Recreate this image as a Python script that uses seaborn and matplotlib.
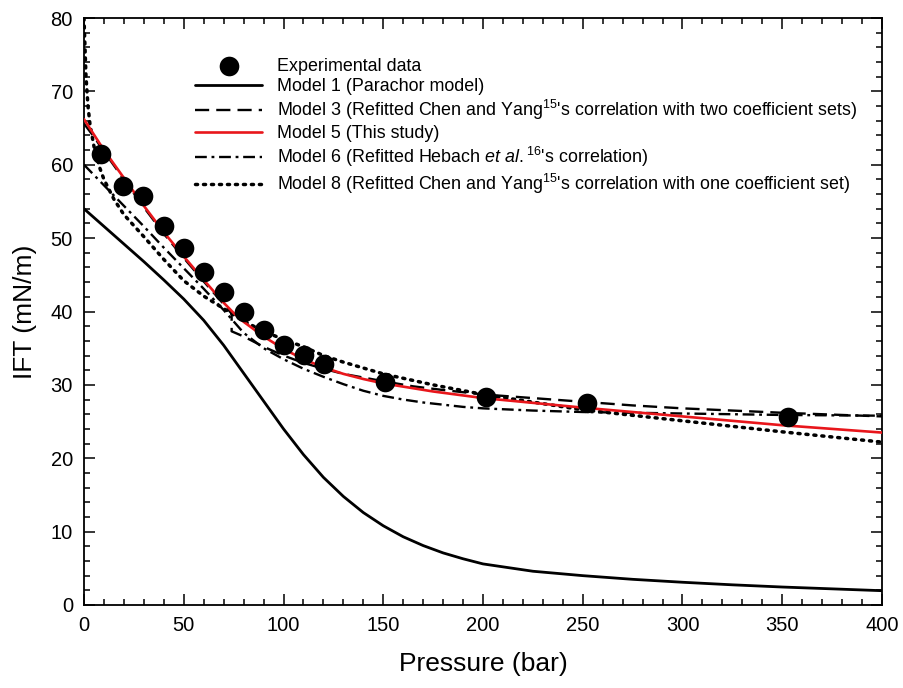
import numpy as np
import pandas as pd
import matplotlib
matplotlib.use("Agg")
import matplotlib.pyplot as plt
import seaborn as sns

# ---------------- data ----------------
exp_p = [8.7, 19.7, 29.8, 40.2, 50.2, 60.2, 70.2, 80.2, 90.2, 100.3, 110.3, 120.3, 150.9, 201.5, 252.2, 352.9]
exp_ift = [61.5, 57.1, 55.7, 51.6, 48.6, 45.4, 42.6, 39.9, 37.5, 35.4, 34.1, 32.8, 30.4, 28.3, 27.5, 25.6]

m1_p = [0, 10, 20, 30, 40, 50, 60, 70, 80, 90, 100, 110, 120, 130, 140, 150, 160, 170, 180, 190,
        200, 225, 250, 275, 300, 325, 350, 375, 400]
m1_ift = [54.0, 51.6, 49.2, 46.8, 44.3, 41.7, 38.8, 35.4, 31.6, 27.8, 24.0, 20.5, 17.4, 14.8, 12.6,
          10.8, 9.3, 8.1, 7.1, 6.3, 5.6, 4.6, 4.0, 3.5, 3.1, 2.75, 2.45, 2.2, 1.95]

m3_p = [0, 5, 10, 20, 30, 40, 50, 60, 70, 74, 74, 80, 90, 100, 110, 120, 130, 140, 150, 165, 180,
        200, 225, 250, 275, 300, 350, 400]
m3_ift = [65.6, 63.8, 61.8, 58.0, 54.2, 50.6, 47.3, 44.1, 41.0, 39.7, 37.3, 36.6, 35.2, 34.0, 33.0,
          32.2, 31.5, 31.0, 30.5, 29.8, 29.3, 28.7, 28.2, 27.7, 27.2, 26.8, 26.2, 25.7]

m5_p = [0, 10, 20, 30, 40, 50, 60, 70, 75, 80, 90, 100, 110, 120, 130, 140, 150, 175, 200, 250, 300, 350, 400]
m5_ift = [66.2, 62.0, 58.2, 54.4, 50.8, 47.5, 44.3, 41.2, 39.8, 38.6, 36.6, 34.9, 33.5, 32.4, 31.5,
          30.8, 30.2, 29.1, 28.2, 26.9, 25.7, 24.5, 23.5]

m6_p = [0, 10, 20, 30, 40, 50, 60, 70, 80, 90, 100, 110, 120, 130, 140, 150, 160, 170, 180, 190,
        200, 225, 250, 300, 350, 400]
m6_ift = [60.0, 57.2, 54.4, 51.6, 48.7, 45.9, 43.1, 40.2, 37.1, 35.0, 33.5, 32.2, 31.1, 30.1, 29.2,
          28.5, 28.0, 27.6, 27.3, 27.0, 26.8, 26.5, 26.3, 26.1, 25.9, 25.8]

m8_p = [0, 0.5, 1, 2, 3, 5, 8, 10, 15, 20, 30, 40, 50, 60, 70, 80, 90, 100, 110, 120, 130, 150,
        175, 200, 250, 300, 350, 400]
m8_ift = [80.0, 76.0, 72.0, 68.0, 65.5, 62.5, 59.5, 58.0, 55.3, 53.2, 50.2, 47.1, 44.2, 42.1, 40.4,
          38.7, 37.3, 36.2, 35.2, 34.0, 33.1, 31.5, 30.0, 28.7, 26.6, 25.1, 23.6, 22.2]

labels = [
    "Experimental data",
    "Model 1 (Parachor model)",
    r"Model 3 (Refitted Chen and Yang$^{15}$'s correlation with two coefficient sets)",
    "Model 5 (This study)",
    r"Model 6 (Refitted Hebach $\mathit{et\ al.}$$^{16}$'s correlation)",
    r"Model 8 (Refitted Chen and Yang$^{15}$'s correlation with one coefficient set)",
]

# ---------------- style ----------------
sns.set_theme(style="white")
plt.rcParams["font.family"] = ["Liberation Sans", "DejaVu Sans"]
plt.rcParams["mathtext.fontset"] = "custom"
plt.rcParams["mathtext.rm"] = "Liberation Sans"
plt.rcParams["mathtext.it"] = "Liberation Sans:italic"
plt.rcParams["mathtext.bf"] = "Liberation Sans:bold"
for k in ["text.color", "axes.labelcolor", "xtick.color", "ytick.color", "axes.edgecolor"]:
    plt.rcParams[k] = "black"

fig = plt.figure(figsize=(9.04, 6.88), dpi=100)
ax = fig.add_axes([84 / 904, 1 - 605 / 688, 798 / 904, 587 / 688])

lw = 1.7
sns.scatterplot(x=exp_p, y=exp_ift, ax=ax, color="black", s=200, edgecolor="black",
                linewidth=0, label=labels[0], zorder=5)
sns.lineplot(x=m1_p, y=m1_ift, ax=ax, color="black", linewidth=lw + 0.3, estimator=None, sort=False,
             label=labels[1])
sns.lineplot(x=m3_p, y=m3_ift, ax=ax, color="black", linewidth=lw, estimator=None, sort=False,
             linestyle=(0, (6, 3)), label=labels[2])
sns.lineplot(x=m6_p, y=m6_ift, ax=ax, color="black", linewidth=lw, estimator=None, sort=False,
             linestyle=(0, (5, 2, 1.2, 2)), label=labels[4])
sns.lineplot(x=m8_p, y=m8_ift, ax=ax, color="black", linewidth=lw + 0.8, estimator=None, sort=False,
             linestyle=(0, (0.6, 1.7)), dash_capstyle="round", label=labels[5])
sns.lineplot(x=m5_p, y=m5_ift, ax=ax, color="#e8161b", linewidth=lw + 0.2, estimator=None, sort=False,
             label=labels[3], zorder=4)

ax.set_xlim(0, 400)
ax.set_ylim(0, 80)
ax.set_xticks(np.arange(0, 401, 50))
ax.set_yticks(np.arange(0, 81, 10))
ax.set_xticks(np.arange(0, 401, 10), minor=True)
ax.set_yticks(np.arange(0, 81, 2), minor=True)
ax.tick_params(which="both", direction="in", top=True, right=True, bottom=True, left=True,
               color="black", width=1.1)
ax.tick_params(which="major", length=8, labelsize=14.5, pad=8)
ax.tick_params(which="minor", length=4.5)
for s in ax.spines.values():
    s.set_color("black")
    s.set_linewidth(1.3)

ax.set_xlabel("Pressure (bar)", fontsize=19, labelpad=12)
ax.set_ylabel("IFT (mN/m)", fontsize=19, labelpad=10)

handles, labs = ax.get_legend_handles_labels()
order = [labs.index(l) for l in labels]
leg = ax.legend([handles[i] for i in order], [labs[i] for i in order],
                loc="upper left", bbox_to_anchor=(0.139, 0.932), frameon=False,
                borderaxespad=0, borderpad=0, fontsize=12.9, handlelength=3.75,
                handletextpad=0.85, labelspacing=0.17, markerscale=1.0)

fig.savefig("out.png", dpi=100)
